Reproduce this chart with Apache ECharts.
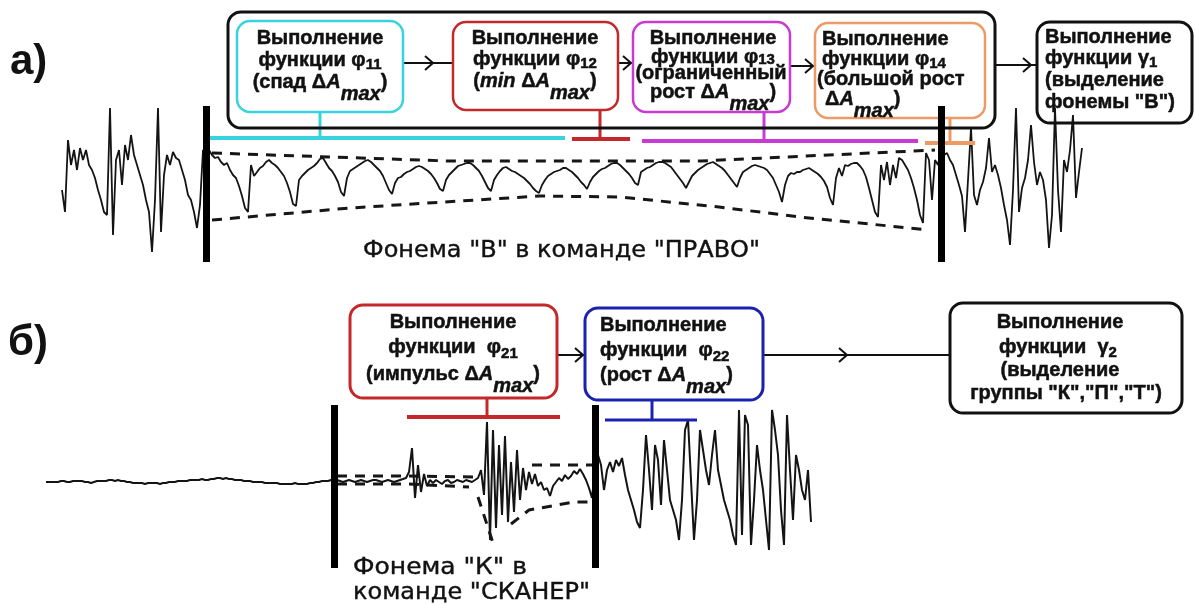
<!DOCTYPE html>
<html>
<head>
<meta charset="utf-8">
<script src="https://cdn.jsdelivr.net/npm/echarts@6/dist/echarts.min.js"></script>
<style>
  html, body { margin: 0; padding: 0; background: #ffffff; }
  #chart { width: 1195px; height: 605px; }
</style>
</head>
<body>
<div id="chart"></div>
<script>
// ---- Speech waveform samples (relative amplitude, one value per sample) ----
// а) command "ПРАВО": segment before the phoneme, phoneme "В", segment after
const waveA_pre = [-10,-32,40,15,30,10,32,20,30,15, 10,2,-10,-20,-32,-35,72,-55,20,30,
  -5,35,20,45,25,15,5,-5,-20,-32, -72,-20,72,-52,5,25,15,28,22,20, 10,0,-15,-20,-32,-48,-25,30];
const waveA_phoneme = [28,30,25,22,23,18,15,17,10,5, 2,-6,-16,-28,-32,15,4,8,12,14,
  18,20,17,15,12,8,4,-3,-12,-24, -26,0,4,7,10,12,14,17,21,22, 17,12,9,4,-2,-12,-16,2,9,11,
  13,15,17,19,20,18,15,12,9,4, -3,-10,-14,-3,2,3,6,8,9,11, 13,14,13,11,9,6,2,-3,-9,-11,
  0,5,8,11,14,15,16,17,17,15, 12,9,4,-2,-8,-11,0,5,9,12, 13,11,9,8,6,4,2,-1,-4,-8,
  -11,-13,-5,0,4,6,8,9,10,12, 12,10,8,5,2,-2,-5,-9,-2,3, 6,9,11,12,14,16,17,17,15,12,
  9,6,2,-3,-5,8,10,12,13,15, 17,18,18,17,15,13,9,5,1,-3, -8,-2,4,7,10,12,14,16,17,18,
  16,14,12,9,5,1,-3,-7,2,8, 10,12,14,15,14,13,12,10,6,2, -5,-12,-22,-5,4,7,6,8,8,10,
  11,12,10,8,6,3,-1,-7,-18,-25, 2,12,4,15,14,16,17,17,14,10, 3,-8,-20,-32,-37,15,0,18,-5,15,
  2,22,20,15,10,2,-8,-20,-35,-43, 27,20,-20,20,15];
const waveA_post = [30,25,27,20,15,5,-5,-16,-52,0, 52,-15,-25,-10,-2,12,42,8,15,5,
  -8,-25,-40,-65,-10,72,-32,-8,2,20, 55,18,-5,8,0,-20,-68,-35,72,-10, -52,20,8,30,65,-18,8,32];

// б) command "СКАНЕР": pause before the phoneme, phoneme "К", segment after
const waveB_pre = [0,0,0,0,0, 1,1,0,0,1, 1,1,1,0,0, -1,0,1,1,1, 1,2,2,1,2, 1,1,0,0,-1,
  -1,-1,-1,-2,-1, -1,-1,-1,-2,-1, -1,0,0,0,1, 1,1,1,2,2, 2,2,3,2,2, 3,3,4,4,3,
  4,3,3,2,2, 2,1,1,1,0, 0,0,0,-1,-1, -1,-1,-1,-2,-2, -2,-2,-2,-1,-2, -2,-2,-2,-1,-1, 0,0,1,1,1, 2];
const waveB_phoneme = [1,2,1,0,1,2,1,0,1,2, 1,0,1,2,2,1,0,1,2,1, 0,1,2,3,4,10,34,-16,17,-10,
  8,-4,2,-1,2,0,-2,1,2,-1, 0,2,1,0,2,1,0,2,4,12, -13,60,-58,52,-46,37,-33,46,-40,20,
  -30,32,-18,14,-8,10,-2,8,-4,0, -8,-6,-14,-4,0,4,1,7,3,6, 11,8,13,8,2,-6,-16,12];
const waveB_post = [27,17,-8,12,20,10,22,16,24,7, -8,-18,-28,-40,-46,-8,47,12,-28,37,
  22,-23,42,12,-18,-28,-38,-58,-18,52, 62,2,-58,-18,52,32,12,-3,27,52,
  12,-3,-18,-28,-38,-53,-63,72,-53,67, 57,-63,-18,37,12,-8,-38,-68,72,52,
  27,-28,-63,67,12,-38,27,12,-8,-18, 12,-40];

// phoneme boundaries, in sample numbers
const boundsA = [48, 293];
const boundsB = [96, 183];

// amplitude envelopes of the phonemes: [sample, amplitude]
const envA_top = [[50,27],[129,19],[213,19],[291,30]];
const envA_bottom = [[50,-40],[96,-28],[159,-16],[186,-17],[219,-27],[246,-37],[289,-50]];
const envB_top = [[[97,6],[121,6],[143,5]], [[162,17],[182,17]]];
const envB_bottom = [[[97,-2],[121,-2],[141,-5]], [[144,-15],[149,-61]], [[155,-42],[161,-28],[176,-20],[182,-20]]];

const waveA = waveA_pre.concat(waveA_phoneme, waveA_post);
const waveB = waveB_pre.concat(waveB_phoneme, waveB_post);
const pairs = arr => arr.map((v, i) => [i, v]);

// ---- text layout helpers ----
const measureCtx = document.createElement('canvas').getContext('2d');
const SANS = '"Liberation Sans", Arial, sans-serif';
const WIDE = '"DejaVu Sans", Verdana, sans-serif';
const INK = '#111111';

function fontOf(p) {
  return (p.it ? 'italic ' : '') + (p.b === false ? '' : 'bold ') + (p.sz || 20) + 'px ' + (p.fam || SANS);
}
function textEl(t, x, y, font, extra, heavy) {
  const style = { text: t, font: font, fill: INK, align: 'left', verticalAlign: 'middle',
                  textAlign: 'left', textVerticalAlign: 'middle' };
  if (heavy) { style.stroke = INK; style.lineWidth = heavy; }
  return Object.assign({ type: 'text', x: x, y: y, z: 10, style: style }, extra || {});
}
// one text row built from runs (subscripts / italics), anchored at left or centre
function row(parts, x, y, anchor) {
  let w = 0;
  parts.forEach(p => { measureCtx.font = fontOf(p); p.w = measureCtx.measureText(p.t).width; w += p.w; });
  let cx = anchor === 'left' ? x : x - w / 2;
  return parts.map(p => { const el = textEl(p.t, cx, y + (p.dy || 0), fontOf(p), null, 0.5); cx += p.w; return el; });
}
// plain caption stretched to a given width
function caption(t, x, y, size, width) {
  const font = size + 'px ' + WIDE;
  measureCtx.font = font;
  const s = width / measureCtx.measureText(t).width;
  return textEl(t, x, y, font, { scaleX: s }, 0.4);
}
function box(x, y, w, h, color, lw) {
  return { type: 'rect', z: 5, shape: { x: x, y: y, width: w, height: h, r: 13 },
           style: { fill: 'none', stroke: color, lineWidth: lw } };
}
function seg(x1, y1, x2, y2, color, lw) {
  return { type: 'line', z: 4, shape: { x1: x1, y1: y1, x2: x2, y2: y2 },
           style: { stroke: color, lineWidth: lw, lineCap: 'butt' } };
}
function arrow(x1, x2, y, tip) {
  return [seg(x1, y, x2, y, INK, 2),
    { type: 'polyline', z: 4, shape: { points: [[tip - 8, y - 7], [tip, y], [tip - 8, y + 7]] },
      style: { stroke: INK, fill: null, lineWidth: 2 } }];
}

const CYAN = '#37d4df', RED = '#c4282b', MAGENTA = '#c83ad2', ORANGE = '#ec9a66', BLUE = '#1c22b0';

const graphics = [
  // panel а)
  textEl('а)', 10, 62, 'bold 42px ' + SANS),
  box(228, 12, 767, 116, INK, 3),
  box(237, 21, 166, 91, CYAN, 2.5),
  box(453, 22, 165, 88, RED, 2.5),
  box(633, 22, 157, 90, MAGENTA, 2.5),
  box(815, 23, 170, 95, ORANGE, 2.5),
  box(1037, 22, 155, 101, INK, 3),
  ...arrow(403, 453, 63, 433),
  ...arrow(618, 633, 63, 631),
  ...arrow(790, 815, 66, 813),
  ...arrow(995, 1037, 65, 1031),
  seg(320, 112, 320, 138, CYAN, 3), seg(210, 138, 565, 138, CYAN, 4),
  seg(600, 110, 600, 139, RED, 3), seg(572, 139, 630, 139, RED, 4),
  seg(764, 112, 764, 141, MAGENTA, 3), seg(642, 141, 918, 141, MAGENTA, 4),
  seg(950, 118, 950, 143, ORANGE, 3), seg(925, 143, 975, 143, ORANGE, 4),

  ...row([{ t: 'Выполнение' }], 320, 38),
  ...row([{ t: 'функции φ' }, { t: '11', sz: 15, dy: 5 }], 320, 60),
  ...row([{ t: '(спад Δ' }, { t: 'A', it: true }, { t: 'max', it: true, dy: 12 }, { t: ')' }], 320, 82),

  ...row([{ t: 'Выполнение' }], 535, 38),
  ...row([{ t: 'функции φ' }, { t: '12', sz: 15, dy: 5 }], 535, 59),
  ...row([{ t: '(' }, { t: 'min', it: true }, { t: ' Δ' }, { t: 'A', it: true }, { t: 'max', it: true, dy: 12 }, { t: ')' }], 535, 81),

  ...row([{ t: 'Выполнение' }], 713, 38),
  ...row([{ t: 'функции φ' }, { t: '13', sz: 15, dy: 3 }], 713, 57),
  ...row([{ t: '(ограниченный' }], 711, 73),
  ...row([{ t: 'рост Δ' }, { t: 'A', it: true }, { t: 'max', it: true, dy: 12 }, { t: ')' }], 713, 92),

  ...row([{ t: 'Выполнение' }], 822, 39, 'left'),
  ...row([{ t: 'функции φ' }, { t: '14', sz: 15, dy: 5 }], 822, 59, 'left'),
  ...row([{ t: '(большой рост' }], 817, 79, 'left'),
  ...row([{ t: 'Δ' }, { t: 'A', it: true }, { t: 'max', it: true, dy: 12 }, { t: ')' }], 825, 99, 'left'),

  ...row([{ t: 'Выполнение' }], 1045, 37, 'left'),
  ...row([{ t: 'функции γ' }, { t: '1', sz: 15, dy: 5 }], 1045, 58, 'left'),
  ...row([{ t: '(выделение' }], 1045, 80, 'left'),
  ...row([{ t: 'фонемы "В")' }], 1045, 102, 'left'),

  caption('Фонема "В" в команде "ПРАВО"', 363, 251, 23, 397),

  // panel б)
  textEl('б)', 8, 343, 'bold 42px ' + SANS),
  box(350, 305, 207, 93, RED, 3),
  box(585, 308, 178, 92, BLUE, 3),
  box(950, 303, 232, 110, INK, 3),
  ...arrow(557, 585, 355, 583),
  ...arrow(763, 950, 355, 847),
  seg(487, 398, 487, 417, RED, 3), seg(407, 417, 560, 417, RED, 4),
  seg(652, 400, 652, 420, BLUE, 3), seg(605, 420, 697, 420, BLUE, 3),

  ...row([{ t: 'Выполнение' }], 453, 322),
  ...row([{ t: 'функции  φ' }, { t: '21', sz: 15, dy: 7 }], 453, 347),
  ...row([{ t: '(импульс Δ' }, { t: 'A', it: true }, { t: 'max', it: true, dy: 12 }, { t: ')' }], 453, 374),

  ...row([{ t: 'Выполнение' }], 600, 325, 'left'),
  ...row([{ t: 'функции  φ' }, { t: '22', sz: 15, dy: 7 }], 600, 350, 'left'),
  ...row([{ t: '(рост Δ' }, { t: 'A', it: true }, { t: 'max', it: true, dy: 12 }, { t: ')' }], 600, 375, 'left'),

  ...row([{ t: 'Выполнение' }], 1060, 322),
  ...row([{ t: 'функции  γ' }, { t: '2', sz: 15, dy: 6 }], 1058, 347),
  ...row([{ t: '(выделение' }], 1060, 370),
  ...row([{ t: 'группы "К","П","Т")' }], 1066, 393),

  caption('Фонема "К" в', 353, 568, 23, 174),
  caption('команде "СКАНЕР"', 353, 593, 23, 237)
];

// ---- axes and series ----
const hiddenAxis = (extra) => Object.assign({
  type: 'value', show: false, axisLine: { show: false }, axisTick: { show: false },
  axisLabel: { show: false }, splitLine: { show: false }
}, extra);

function boundaryMarks(bounds, top, bottom) {
  return {
    silent: true, symbol: ['none', 'none'], animation: false,
    label: { show: false },
    lineStyle: { color: '#000', width: 7, type: 'solid' },
    emphasis: { disabled: true },
    data: bounds.map(i => [{ coord: [i, top] }, { coord: [i, bottom] }])
  };
}
function waveSeries(data, idx, lw, marks) {
  return { type: 'line', xAxisIndex: idx, yAxisIndex: idx, data: pairs(data), symbol: 'none',
           showSymbol: false, z: 3, lineStyle: { color: '#141414', width: lw },
           emphasis: { disabled: true }, markLine: marks };
}
function envSeries(points, idx) {
  return { type: 'line', xAxisIndex: idx, yAxisIndex: idx, data: points, symbol: 'none',
           z: 3, lineStyle: { color: '#161616', width: 3, type: [10, 8] },
           emphasis: { disabled: true } };
}

const series = [
  waveSeries(waveA, 0, 1.8, boundaryMarks(boundsA, 74, -82)),
  envSeries(envA_top, 0),
  envSeries(envA_bottom, 0),
  waveSeries(waveB, 1, 2, boundaryMarks(boundsB, 77, -86)),
  ...envB_top.map(s => envSeries(s, 1)),
  ...envB_bottom.map(s => envSeries(s, 1))
];

const chart = echarts.init(document.getElementById('chart'), null, { renderer: 'canvas' });
chart.setOption({
  animation: false,
  backgroundColor: '#ffffff',
  grid: [
    { left: 62, top: 100, width: 1020, height: 165 },
    { left: 46, top: 402, width: 765, height: 170 }
  ],
  xAxis: [
    hiddenAxis({ gridIndex: 0, min: 0, max: waveA.length - 1 }),
    hiddenAxis({ gridIndex: 1, min: 0, max: waveB.length - 1 })
  ],
  yAxis: [
    hiddenAxis({ gridIndex: 0, min: -85, max: 80 }),
    hiddenAxis({ gridIndex: 1, min: -90, max: 80 })
  ],
  series: series,
  graphic: { elements: graphics }
});
</script>
</body>
</html>
